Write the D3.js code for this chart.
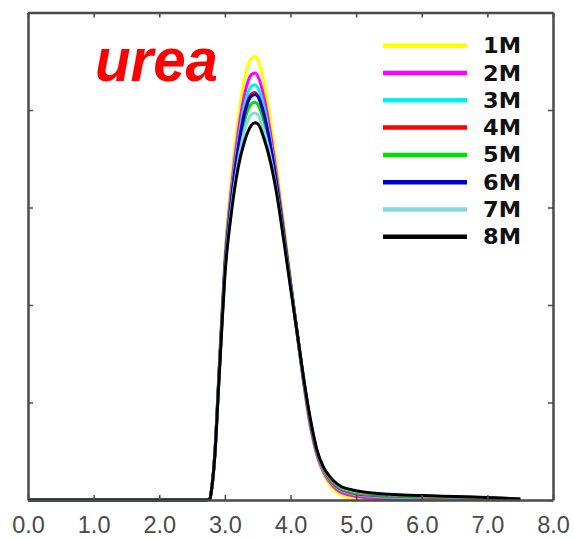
<!DOCTYPE html>
<html>
<head>
<meta charset="utf-8">
<script src="https://cdn.jsdelivr.net/npm/d3@7"></script>
<style>
  html, body { margin: 0; padding: 0; background: #fff; }
  svg { display: block; }
</style>
</head>
<body>
<svg id="chart" width="574" height="539"></svg>
<script>
// Size distribution curves, urea series 1M..8M
const xGrid = [0, 2.70, 2.77, 2.80, 2.85, 2.90, 2.95, 3.00, 3.10, 3.20, 3.30, 3.40, 3.46, 3.50, 3.60, 3.70, 3.80, 3.90, 4.00, 4.10, 4.20, 4.30, 4.40, 4.50, 4.60, 4.70, 4.80, 4.90, 5.00, 5.20, 5.50, 6.00, 6.50, 7.00, 7.50];

const seriesNames = ["1M", "2M", "3M", "4M", "5M", "6M", "7M", "8M"];
const seriesColors = ["#ffff00", "#ff00ff", "#00f0f0", "#ff0000", "#00e000", "#0000c8", "#88dada", "#000000"];

const y1M = [0,0,0.01,0.13,0.52,1.20,1.88,2.50,3.30,3.90,4.32,4.53,4.55,4.52,4.27,3.87,3.37,2.82,2.27,1.72,1.20,0.76,0.46,0.27,0.15,0.08,0.04,0.02,0.006,0,0,0,0,0,0];
const y2M = [0,0,0.01,0.13,0.51,1.17,1.83,2.44,3.20,3.76,4.16,4.36,4.38,4.35,4.12,3.74,3.27,2.76,2.24,1.71,1.20,0.77,0.47,0.29,0.18,0.11,0.07,0.05,0.035,0.022,0.015,0.01,0.008,0.006,0.003];
const y3M = [0,0,0.01,0.12,0.50,1.15,1.80,2.40,3.13,3.66,4.05,4.24,4.26,4.23,4.02,3.66,3.22,2.73,2.23,1.72,1.22,0.80,0.49,0.31,0.20,0.13,0.09,0.07,0.055,0.04,0.03,0.022,0.017,0.013,0.006];
const y4M = [0,0,0.01,0.12,0.50,1.14,1.78,2.37,3.09,3.60,3.98,4.16,4.18,4.15,3.95,3.61,3.19,2.71,2.22,1.72,1.23,0.81,0.50,0.32,0.21,0.14,0.10,0.08,0.065,0.05,0.04,0.03,0.024,0.018,0.008];
const y5M = [0,0,0.01,0.12,0.49,1.13,1.76,2.35,3.04,3.53,3.89,4.06,4.08,4.06,3.87,3.55,3.15,2.69,2.21,1.72,1.24,0.82,0.51,0.33,0.22,0.15,0.11,0.09,0.075,0.058,0.047,0.035,0.028,0.021,0.009];
const y6M = [0,0,0.01,0.12,0.50,1.14,1.78,2.37,3.08,3.59,3.96,4.14,4.16,4.14,3.94,3.61,3.19,2.71,2.22,1.73,1.24,0.82,0.51,0.33,0.23,0.16,0.12,0.10,0.085,0.066,0.053,0.04,0.032,0.024,0.01];
const y7M = [0,0,0.01,0.12,0.49,1.12,1.75,2.33,3.00,3.46,3.79,3.95,3.97,3.95,3.78,3.50,3.12,2.67,2.20,1.72,1.24,0.83,0.51,0.33,0.23,0.16,0.12,0.10,0.085,0.068,0.055,0.04,0.032,0.024,0.01];
const y8M = [0,0,0.01,0.12,0.48,1.10,1.72,2.30,2.95,3.40,3.68,3.84,3.87,3.86,3.70,3.45,3.10,2.65,2.18,1.72,1.25,0.84,0.52,0.34,0.24,0.17,0.13,0.11,0.095,0.075,0.06,0.045,0.035,0.025,0.01];

const seriesValues = [y1M, y2M, y3M, y4M, y5M, y6M, y7M, y8M];

const xTicks = [0, 1, 2, 3, 4, 5, 6, 7, 8];
const xTickLabels = ["0.0", "1.0", "2.0", "3.0", "4.0", "5.0", "6.0", "7.0", "8.0"];
const yTicks = [0, 1, 2, 3, 4, 5];

const svg = d3.select("#chart");
const plotLeft = 28, plotRight = 553, plotTop = 12.5, plotBottom = 500;

const x = d3.scaleLinear().domain([0, 8]).range([plotLeft, plotRight]);
const y = d3.scaleLinear().domain([0, 5]).range([plotBottom, plotTop]);

// curves, drawn 1M first so 8M sits on top
const line = d3.line()
  .x((d, i) => x(xGrid[i]))
  .y(d => y(d))
  .curve(d3.curveMonotoneX);

const curves = svg.append("g");
seriesValues.forEach((vals, k) => {
  curves.append("path")
    .attr("d", line(vals))
    .attr("fill", "none")
    .attr("stroke", seriesColors[k])
    .attr("stroke-width", 3)
    .attr("stroke-linejoin", "round");
});

// frame with inward ticks on all four sides
const axisColor = "#4a4a4a";
const tickLen = 5;
function styleFrame(g) {
  g.select(".domain").attr("stroke", axisColor).attr("stroke-width", 2.5);
  g.selectAll(".tick line").attr("stroke", axisColor).attr("stroke-width", 1.5);
}
const frame = svg.append("g");
frame.append("g")
  .attr("transform", `translate(0,${plotBottom})`)
  .call(d3.axisBottom(x).tickValues(xTicks).tickSizeInner(-tickLen).tickSizeOuter(0).tickFormat((d, i) => xTickLabels[i]).tickPadding(0))
  .call(styleFrame)
  .call(g => g.selectAll(".tick text")
    .attr("fill", "#4a4a4a")
    .attr("font-family", "Liberation Sans, Arial, sans-serif")
    .attr("font-size", 23.5)
    .attr("y", 33)
    .attr("dy", null)
    .attr("dominant-baseline", "alphabetic"));
frame.append("g")
  .attr("transform", `translate(0,${plotTop})`)
  .call(d3.axisTop(x).tickValues(xTicks).tickSizeInner(-tickLen).tickSizeOuter(0).tickFormat(""))
  .call(styleFrame);
frame.append("g")
  .attr("transform", `translate(${plotLeft},0)`)
  .call(d3.axisLeft(y).tickValues(yTicks).tickSizeInner(-tickLen).tickSizeOuter(0).tickFormat(""))
  .call(styleFrame);
frame.append("g")
  .attr("transform", `translate(${plotRight},0)`)
  .call(d3.axisRight(y).tickValues(yTicks).tickSizeInner(-tickLen).tickSizeOuter(0).tickFormat(""))
  .call(styleFrame);

// title word
svg.append("text")
  .attr("x", 95)
  .attr("y", 81)
  .attr("fill", "#ff0000")
  .attr("font-family", "Liberation Sans, Arial, sans-serif")
  .attr("font-weight", "bold")
  .attr("font-style", "italic")
  .attr("font-size", 62)
  .attr("textLength", 123)
  .attr("lengthAdjust", "spacingAndGlyphs")
  .text("urea");

// legend
const legend = svg.append("g");
const legY0 = 45.7, legStep = 27.3;
seriesNames.forEach((name, k) => {
  const ly = legY0 + k * legStep;
  legend.append("line")
    .attr("x1", 383).attr("x2", 467)
    .attr("y1", ly).attr("y2", ly)
    .attr("stroke", seriesColors[k])
    .attr("stroke-width", 4.5);
  legend.append("text")
    .attr("x", 483)
    .attr("y", ly + 7.5)
    .attr("fill", "#111")
    .attr("font-family", "DejaVu Sans, sans-serif")
    .attr("font-weight", "bold")
    .attr("font-size", 20.5)
    .attr("textLength", 38)
    .attr("lengthAdjust", "spacingAndGlyphs")
    .text(name);
});
</script>
</body>
</html>
